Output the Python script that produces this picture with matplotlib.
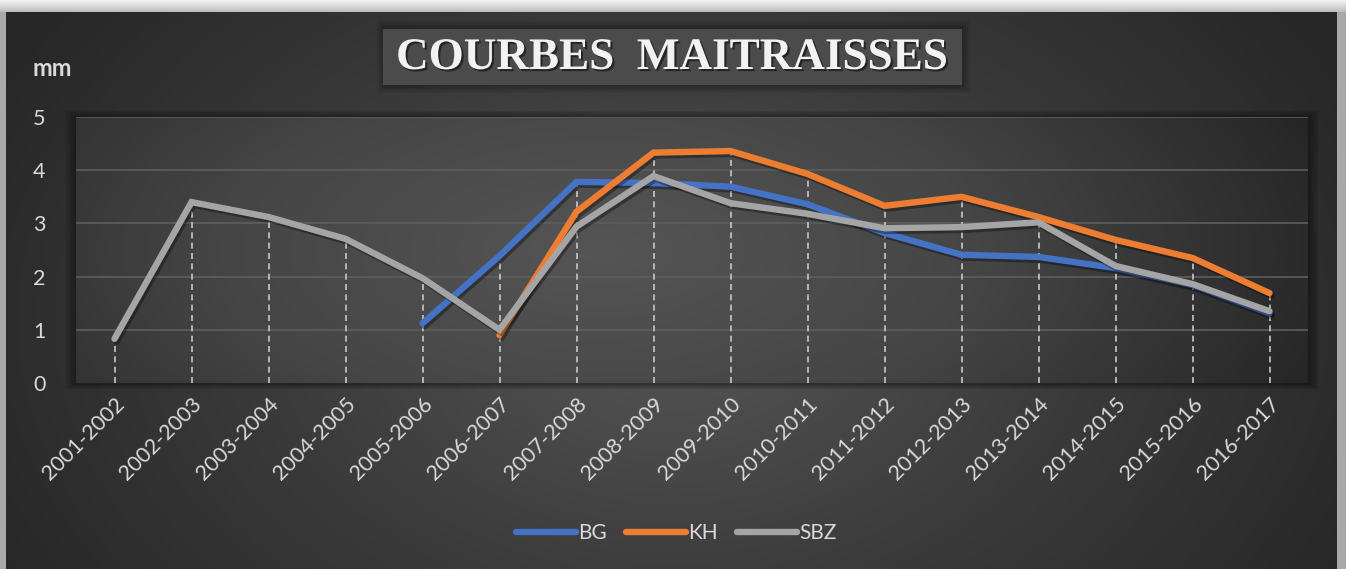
import numpy as np
import matplotlib
matplotlib.use("Agg")
import matplotlib.pyplot as plt
import matplotlib.patheffects as pe
from matplotlib.colors import LinearSegmentedColormap
from matplotlib.patches import Rectangle

categories = ["2001-2002", "2002-2003", "2003-2004", "2004-2005", "2005-2006",
              "2006-2007", "2007-2008", "2008-2009", "2009-2010", "2010-2011",
              "2011-2012", "2012-2013", "2013-2014", "2014-2015", "2015-2016",
              "2016-2017"]
nan = np.nan
bg = [nan, nan, nan, nan, 1.12, 2.39, 3.78, 3.76, 3.69, 3.36, 2.82, 2.41, 2.37, 2.16, 1.84, 1.31]
kh = [nan, nan, nan, nan, nan, 0.90, 3.22, 4.33, 4.36, 3.93, 3.33, 3.50, 3.12, 2.69, 2.35, 1.69]
sbz = [0.83, 3.40, 3.12, 2.71, 1.97, 1.00, 2.94, 3.89, 3.38, 3.18, 2.91, 2.93, 3.02, 2.20, 1.86, 1.35]
series_names = ["BG", "KH", "SBZ"]
series_colors = ["#4472C4", "#ED7D31", "#A5A5A5"]
yticks = [0, 1, 2, 3, 4, 5]

W, H = 1346, 569
fig = plt.figure(figsize=(W / 100, H / 100), dpi=100)
fig.patch.set_facecolor("#a8a8a8")

def fx(px):
    return px / W

def fy(py):
    return 1 - py / H

# top light band
top = fig.add_axes([0, fy(12), 1, 12 / H], zorder=-30)
top.axis("off")
grad = np.linspace(0, 1, 50).reshape(-1, 1)
top.imshow(grad, aspect="auto", cmap=LinearSegmentedColormap.from_list("t", ["#f4f4f4", "#bdbdbd"]),
           extent=(0, 1, 0, 1))

# chart background (radial gradient)
bgax = fig.add_axes([fx(6), 0, fx(1337 - 6), 1 - 12 / H], zorder=-20)
bgax.axis("off")
yy, xx = np.mgrid[0:200, 0:400]
cx, cy = 200, 110
r = np.sqrt(((xx - cx) / 230) ** 2 + ((yy - cy) / 190) ** 2)
r = np.clip(r, 0, 1)
cmap_bg = LinearSegmentedColormap.from_list("b", ["#565656", "#3c3c3c", "#272727"])
bgax.imshow(r, aspect="auto", cmap=cmap_bg, extent=(0, 1, 0, 1), origin="upper")
bgax.set_xlim(0, 1)
bgax.set_ylim(0, 1)

# plot area
pl, pr, pt, pb = 76, 1308, 117, 383
ax = fig.add_axes([fx(pl), fy(pb), fx(pr - pl), (pb - pt) / H], zorder=0)
ax.set_facecolor("none")

# plot-area shadow
for i, a in enumerate([0.10, 0.10, 0.10, 0.10]):
    d = (i + 1) * 2.5
    fig.patches.append(Rectangle((fx(pl - d), fy(pb + d * 0.6)), fx(pr - pl + 2 * d), (pb - pt + d * 1.2) / H,
                                 transform=fig.transFigure, facecolor="black", alpha=a,
                                 edgecolor="none", zorder=-15))

n = len(categories)
x = np.arange(n)
yy2, xx2 = np.mgrid[0:100, 0:400]
r2 = np.sqrt(((xx2 - 170) / 260) ** 2 + ((yy2 - 50) / 140) ** 2)
r2 = np.clip(r2, 0, 1)
cmap_pl = LinearSegmentedColormap.from_list("p", ["#555555", "#454545", "#262626"])
ax.imshow(r2, aspect="auto", cmap=cmap_pl, extent=(-0.5, n - 0.5, 0, 5), origin="upper", zorder=0)

ax.set_xlim(-0.5, n - 0.5)
ax.set_ylim(0, 5)
for v in yticks[1:]:
    ax.axhline(v, color="#5e5e5e", lw=1.2, zorder=1)

# drop lines
allv = np.vstack([bg, kh, sbz])
tops = np.nanmax(allv, axis=0)
ax.vlines(x, 0, tops, colors="#c8c8c8", linestyles=(0, (3.6, 2.6)), lw=1.2, zorder=2)

shadow = [pe.SimpleLineShadow(offset=(1.5, -2), shadow_color="black", alpha=0.35), pe.Normal()]
handles = []
for vals, name, col in zip([bg, kh, sbz], series_names, series_colors):
    h, = ax.plot(x, vals, color=col, lw=4.6, solid_capstyle="round", solid_joinstyle="miter",
                 zorder=3, label=name, path_effects=shadow)
    handles.append(h)

for s in ax.spines.values():
    s.set_visible(False)
ax.tick_params(length=0)
ax.set_yticks(yticks)
ax.set_yticklabels([str(v) for v in yticks], color="#d9d9d9", fontsize=15.5, family="Lato")
ax.tick_params(axis="y", pad=22)
ax.set_xticks(x)
ax.set_xticklabels(categories, rotation=45, ha="right", rotation_mode="anchor",
                   color="#d9d9d9", fontsize=15.5, family="Lato")
ax.tick_params(axis="x", pad=8)

fig.text(fx(52), fy(69), "mm", color="#d9d9d9", fontsize=17, fontweight="bold",
         family="Lato", ha="center", va="center")

# title box
for i in range(4):
    d = (i + 1) * 2
    fig.patches.append(Rectangle((fx(383 - d + 2), fy(85 + d)), fx(962 - 383 + 2 * d - 2), (85 - 29 + 2 * d) / H,
                                 transform=fig.transFigure, facecolor="black", alpha=0.07,
                                 edgecolor="none", zorder=1))
fig.patches.append(Rectangle((fx(383), fy(85)), fx(962 - 383), (85 - 29) / H,
                             transform=fig.transFigure, facecolor="#4b4b4b",
                             edgecolor="none", zorder=2))
fig.text(fx(672), fy(58), "COURBES  MAITRAISSES", color="#f2f2f2", fontsize=32.5,
         fontweight="bold", family="Liberation Serif", ha="center", va="center", zorder=3,
         path_effects=[pe.withSimplePatchShadow(offset=(1.5, -1.5), shadow_rgbFace="black", alpha=0.5)])

leg = fig.legend(handles=handles, labels=series_names, loc="center", bbox_to_anchor=(fx(676), fy(533)),
                 ncol=3, frameon=False, handlelength=2.9, handletextpad=0.1,
                 columnspacing=0.9, prop={"family": "Lato", "size": 15})
for t in leg.get_texts():
    t.set_color("#d9d9d9")
for lh in leg.get_lines():
    lh.set_linewidth(4.6)
    lh.set_solid_capstyle("round")
    lh.set_path_effects([])

fig.savefig("out.png", dpi=100, facecolor=fig.get_facecolor())
